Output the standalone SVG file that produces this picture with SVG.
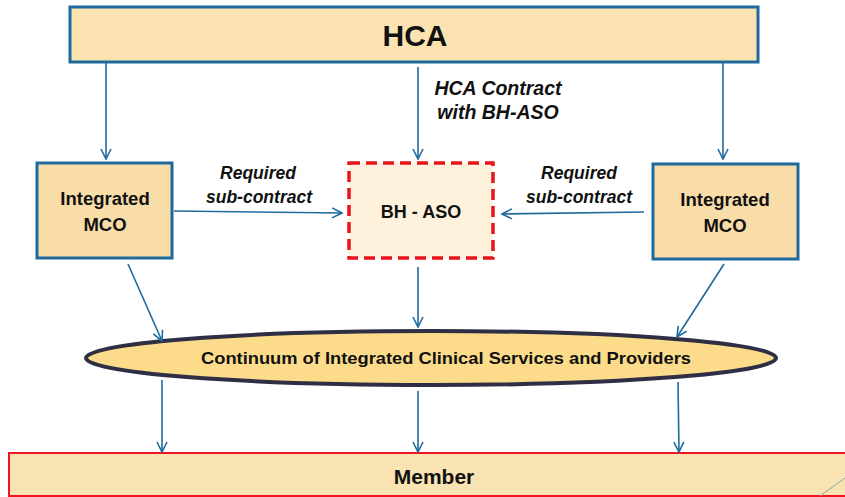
<svg xmlns="http://www.w3.org/2000/svg" width="845" height="497" viewBox="0 0 845 497">
<defs>
<marker id="arr" markerWidth="12" markerHeight="12" viewBox="0 0 12 12" refX="11" refY="6" orient="auto" markerUnits="userSpaceOnUse">
<polyline points="1,1 11,6 1,11" fill="none" stroke="#1F6A9C" stroke-width="1.6"/>
</marker>
<style>
.c{stroke:#1F6A9C;stroke-width:1.6;fill:none;marker-end:url(#arr)}
.t{font-family:"Liberation Sans",Arial,sans-serif;font-weight:bold;fill:#111;text-anchor:middle}
.i{font-style:italic}
</style>
</defs>
<rect width="845" height="497" fill="#fff"/>
<g id="hca">
<rect x="70" y="7" width="688" height="55" fill="#FAE3B1" stroke="#1F6A9C" stroke-width="3"/>
<text class="t" x="415" y="46" font-size="30">HCA</text>
</g>
<g id="mco-left">
<rect x="37" y="163" width="135" height="95" fill="#F9DDA9" stroke="#1F6A9C" stroke-width="3"/>
<text class="t" x="105" y="205" font-size="18.5">Integrated</text>
<text class="t" x="105" y="231" font-size="18.5">MCO</text>
</g>
<g id="bh-aso">
<rect x="349" y="163" width="144" height="95" fill="#FEF2DC" stroke="#E8141C" stroke-width="3.5" stroke-dasharray="11,6"/>
<text class="t" x="421" y="218" font-size="18">BH - ASO</text>
</g>
<g id="mco-right">
<rect x="653" y="164" width="145" height="95" fill="#F9DDA9" stroke="#1F6A9C" stroke-width="3"/>
<text class="t" x="725" y="206" font-size="18.5">Integrated</text>
<text class="t" x="725" y="232" font-size="18.5">MCO</text>
</g>
<g id="continuum">
<ellipse cx="431" cy="358" rx="345" ry="27" fill="#FCDC8B" stroke="#2E2E44" stroke-width="4"/>
<text class="t" x="446" y="364" font-size="17" textLength="490" lengthAdjust="spacingAndGlyphs">Continuum of Integrated Clinical Services and Providers</text>
</g>
<g id="member">
<rect x="9" y="453" width="845" height="43" fill="#F9E3B2" stroke="#F0141C" stroke-width="2"/>
<text class="t" x="434" y="484" font-size="21">Member</text>
<line x1="820" y1="496" x2="845" y2="478" stroke="#8FA89A" stroke-width="1"/>
</g>
<g id="connectors">
<line class="c" x1="106" y1="63" x2="106" y2="159"/>
<line class="c" x1="418" y1="67" x2="418" y2="159"/>
<line class="c" x1="723" y1="63" x2="723" y2="159"/>
<line class="c" x1="174" y1="211" x2="342" y2="213"/>
<line class="c" x1="644" y1="212" x2="502" y2="214"/>
<line class="c" x1="128" y1="264" x2="162" y2="341"/>
<line class="c" x1="418" y1="267" x2="418" y2="327"/>
<line class="c" x1="724" y1="264" x2="677" y2="337"/>
<line class="c" x1="162" y1="380" x2="162" y2="452"/>
<line class="c" x1="418" y1="391" x2="418" y2="452"/>
<line class="c" x1="678" y1="382" x2="679" y2="452"/>
</g>
<g id="labels">
<text class="t i" x="498" y="95" font-size="19.5">HCA Contract</text>
<text class="t i" x="498" y="119" font-size="19.5">with BH-ASO</text>
<text class="t i" x="258" y="179" font-size="17.5">Required</text>
<text class="t i" x="259" y="203" font-size="17.5">sub-contract</text>
<text class="t i" x="579" y="179" font-size="17.5">Required</text>
<text class="t i" x="579" y="203" font-size="17.5">sub-contract</text>
</g>
</svg>
